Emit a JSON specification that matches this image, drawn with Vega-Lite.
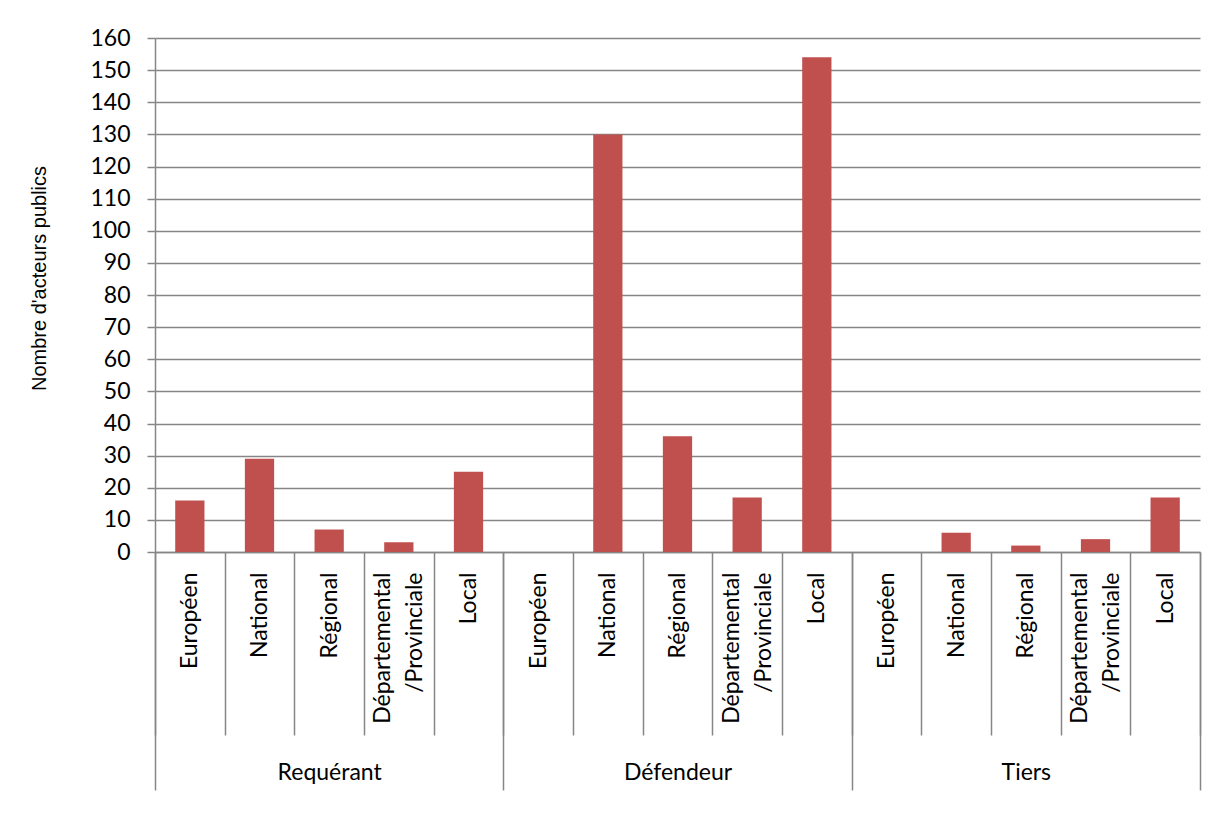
{
  "$schema": "https://vega.github.io/schema/vega-lite/v6.json",
  "width": 1045,
  "height": 514,
  "autosize": {"type": "none"},
  "padding": {"left": 155, "top": 38, "right": 15, "bottom": 288},
  "background": "white",
  "config": {
    "view": {"stroke": null},
    "font": "Lato",
    "axis": {"labelColor": "black", "titleColor": "black"}
  },
  "data": {
    "values": [
      {"cat": "Requérant|Européen", "group": "Requérant", "level": "Européen", "value": 16},
      {"cat": "Requérant|National", "group": "Requérant", "level": "National", "value": 29},
      {"cat": "Requérant|Régional", "group": "Requérant", "level": "Régional", "value": 7},
      {"cat": "Requérant|Départemental~/Provinciale", "group": "Requérant", "level": "Départemental/Provinciale", "value": 3},
      {"cat": "Requérant|Local", "group": "Requérant", "level": "Local", "value": 25},
      {"cat": "Défendeur|Européen", "group": "Défendeur", "level": "Européen", "value": 0},
      {"cat": "Défendeur|National", "group": "Défendeur", "level": "National", "value": 130},
      {"cat": "Défendeur|Régional", "group": "Défendeur", "level": "Régional", "value": 36},
      {"cat": "Défendeur|Départemental~/Provinciale", "group": "Défendeur", "level": "Départemental/Provinciale", "value": 17},
      {"cat": "Défendeur|Local", "group": "Défendeur", "level": "Local", "value": 154},
      {"cat": "Tiers|Européen", "group": "Tiers", "level": "Européen", "value": 0},
      {"cat": "Tiers|National", "group": "Tiers", "level": "National", "value": 6},
      {"cat": "Tiers|Régional", "group": "Tiers", "level": "Régional", "value": 2},
      {"cat": "Tiers|Départemental~/Provinciale", "group": "Tiers", "level": "Départemental/Provinciale", "value": 4},
      {"cat": "Tiers|Local", "group": "Tiers", "level": "Local", "value": 17}
    ]
  },
  "layer": [
    {
      "mark": {"type": "bar", "color": "#C0504D", "width": {"band": 0.42}},
      "encoding": {
        "x": {
          "field": "cat",
          "type": "nominal",
          "sort": null,
          "scale": {"paddingInner": 0, "paddingOuter": 0},
          "axis": {
            "title": null,
            "domain": true,
            "domainColor": "#868686",
            "domainWidth": 1.5,
            "ticks": true,
            "tickBand": "extent",
            "tickSize": 183,
            "tickColor": "#868686",
            "tickWidth": 1.5,
            "labelAngle": 270,
            "labelAlign": "right",
            "labelBaseline": "middle",
            "labelPadding": -163,
            "labelOffset": {"condition": {"test": "isValid(datum.value) && indexof(datum.value, '~') >= 0", "value": -16}, "value": 0},
            "labelFont": "Lato",
            "labelFontSize": 23,
            "labelLineHeight": 32,
            "labelOverlap": false,
            "labelExpr": "isValid(datum.value) ? split(split(datum.value, '|')[1], '~') : ''"
          }
        },
        "y": {
          "field": "value",
          "type": "quantitative",
          "scale": {"domain": [0, 160], "nice": false},
          "axis": {
            "values": [0, 10, 20, 30, 40, 50, 60, 70, 80, 90, 100, 110, 120, 130, 140, 150, 160],
            "labelOverlap": false,
            "grid": true,
            "gridColor": "#868686",
            "gridWidth": 1.5,
            "domain": true,
            "domainColor": "#868686",
            "domainWidth": 1.5,
            "tickColor": "#868686",
            "tickWidth": 1.5,
            "tickSize": 8,
            "labelPadding": 17,
            "labelFont": "Lato",
            "labelFontSize": 23,
            "title": "Nombre d'acteurs publics",
            "titleFont": "Liberation Sans",
            "titleFontSize": 20,
            "titleFontWeight": "normal",
            "titlePadding": 40,
            "titleY": 240
          }
        }
      }
    },
    {
      "mark": {"type": "point", "opacity": 0},
      "encoding": {
        "x": {
          "field": "group",
          "type": "nominal",
          "sort": null,
          "scale": {"paddingInner": 0, "paddingOuter": 0},
          "axis": {
            "title": null,
            "orient": "bottom",
            "domain": false,
            "ticks": true,
            "tickBand": "extent",
            "tickSize": 238,
            "tickColor": "#868686",
            "tickWidth": 1.5,
            "labelAngle": 0,
            "labelAlign": "center",
            "labelBaseline": "middle",
            "labelPadding": -18,
            "labelFont": "Lato",
            "labelFontSize": 23,
            "labelExpr": "isValid(datum.value) ? datum.value : ''"
          }
        }
      }
    }
  ],
  "resolve": {"scale": {"x": "independent"}}
}
